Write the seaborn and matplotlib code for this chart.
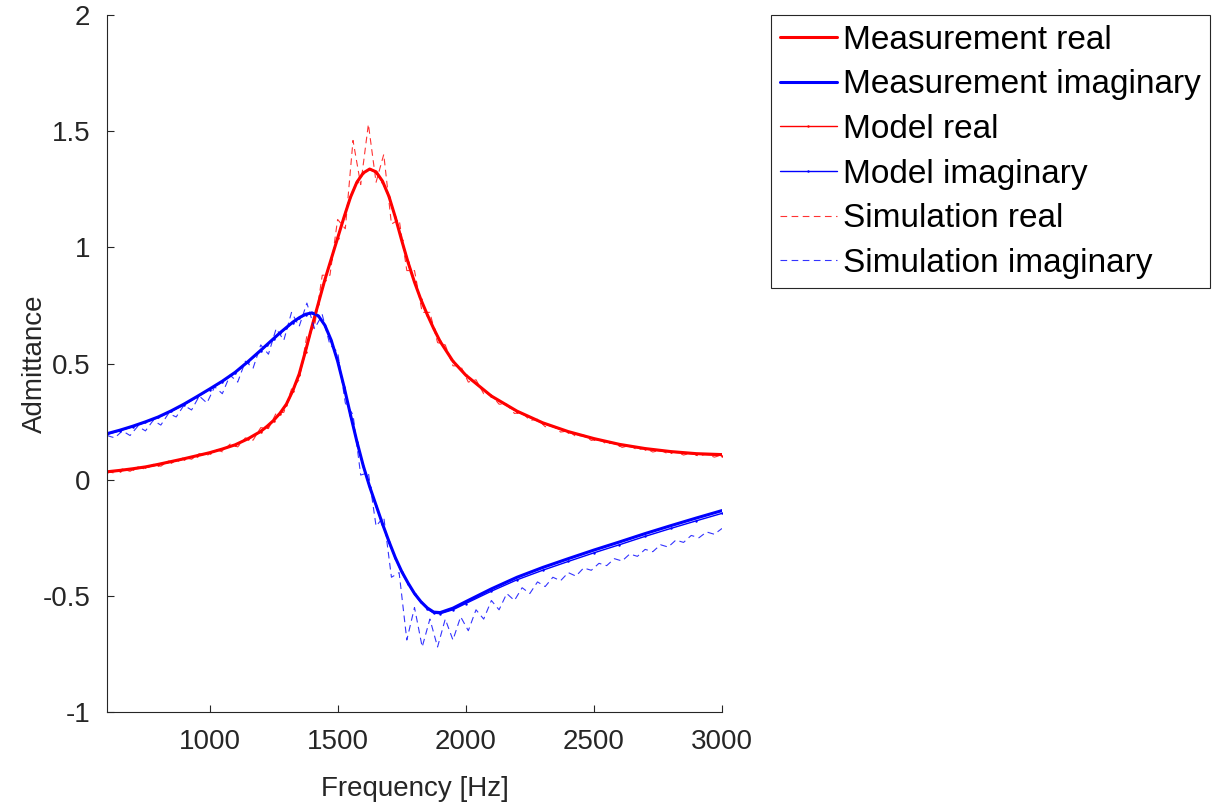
import matplotlib
matplotlib.use("Agg")
import matplotlib.pyplot as plt
import numpy as np
import pandas as pd
import seaborn as sns

# measurement / model sample frequencies (Hz)
meas_freq = [600, 650, 700, 750, 800, 850, 900, 950, 1000, 1050, 1100, 1150,
             1200, 1225, 1250, 1275, 1300, 1325, 1350, 1375, 1400, 1425, 1450,
             1475, 1500, 1525, 1550, 1575, 1600, 1625, 1650, 1675, 1700, 1725,
             1750, 1775, 1800, 1825, 1850, 1875, 1900, 1950, 2000, 2100, 2200,
             2300, 2400, 2500, 2600, 2700, 2800, 2900, 3000]

meas_real = [0.034, 0.040, 0.047, 0.055, 0.066, 0.078, 0.090, 0.103, 0.116, 0.132,
             0.150, 0.176, 0.208, 0.230, 0.255, 0.286, 0.325, 0.383, 0.455, 0.555,
             0.660, 0.760, 0.860, 0.950, 1.040, 1.130, 1.215, 1.280, 1.320, 1.337,
             1.325, 1.285, 1.220, 1.130, 1.030, 0.935, 0.850, 0.775, 0.710, 0.650,
             0.595, 0.510, 0.450, 0.360, 0.295, 0.245, 0.207, 0.177, 0.152, 0.134,
             0.121, 0.112, 0.108]

meas_imag = [0.198, 0.213, 0.230, 0.249, 0.270, 0.296, 0.325, 0.357, 0.390, 0.424,
             0.462, 0.508, 0.557, 0.582, 0.607, 0.632, 0.655, 0.678, 0.697, 0.712,
             0.718, 0.705, 0.665, 0.600, 0.510, 0.400, 0.280, 0.165, 0.060, -0.030,
             -0.110, -0.190, -0.265, -0.335, -0.395, -0.445, -0.490, -0.525, -0.552,
             -0.570, -0.572, -0.553, -0.525, -0.470, -0.420, -0.378, -0.340, -0.303,
             -0.268, -0.232, -0.198, -0.165, -0.133]

model_real = [0.032, 0.038, 0.045, 0.053, 0.064, 0.076, 0.089, 0.102, 0.115, 0.131,
              0.150, 0.175, 0.206, 0.228, 0.253, 0.284, 0.322, 0.380, 0.450, 0.550,
              0.655, 0.758, 0.858, 0.950, 1.042, 1.133, 1.218, 1.283, 1.322, 1.335,
              1.322, 1.282, 1.218, 1.130, 1.032, 0.938, 0.852, 0.776, 0.710, 0.650,
              0.596, 0.510, 0.449, 0.358, 0.293, 0.243, 0.205, 0.175, 0.150, 0.132,
              0.119, 0.110, 0.104]

model_imag = [0.195, 0.211, 0.228, 0.247, 0.268, 0.294, 0.322, 0.355, 0.388, 0.422,
              0.460, 0.506, 0.555, 0.580, 0.605, 0.630, 0.653, 0.676, 0.695, 0.710,
              0.716, 0.703, 0.663, 0.598, 0.508, 0.398, 0.278, 0.163, 0.058, -0.032,
              -0.112, -0.192, -0.268, -0.338, -0.398, -0.448, -0.493, -0.528, -0.556,
              -0.574, -0.577, -0.560, -0.533, -0.480, -0.431, -0.390, -0.352, -0.315,
              -0.280, -0.244, -0.210, -0.177, -0.145]

# simulation sampled every 30 Hz
sim_freq = list(range(600, 3001, 30))

sim_real = [0.036, 0.028, 0.046, 0.036, 0.055, 0.045, 0.066, 0.058, 0.080, 0.073,
            0.096, 0.088, 0.112, 0.103, 0.131, 0.120, 0.153, 0.141, 0.180, 0.170,
            0.224, 0.220, 0.286, 0.290, 0.390, 0.430, 0.620, 0.660, 0.880, 0.880,
            1.120, 1.080, 1.460, 1.270, 1.530, 1.280, 1.400, 1.100, 1.120, 0.900,
            0.900, 0.720, 0.720, 0.590, 0.580, 0.490, 0.490, 0.420, 0.430, 0.370,
            0.365, 0.325, 0.325, 0.285, 0.290, 0.255, 0.260, 0.228, 0.233, 0.205,
            0.210, 0.186, 0.192, 0.169, 0.175, 0.153, 0.160, 0.139, 0.147, 0.128,
            0.136, 0.119, 0.127, 0.111, 0.121, 0.106, 0.115, 0.101, 0.111, 0.097,
            0.106]

sim_imag = [0.190, 0.180, 0.210, 0.190, 0.230, 0.210, 0.255, 0.235, 0.285, 0.270,
            0.320, 0.300, 0.360, 0.330, 0.400, 0.370, 0.450, 0.420, 0.510, 0.480,
            0.580, 0.540, 0.650, 0.600, 0.720, 0.660, 0.760, 0.650, 0.710, 0.580,
            0.550, 0.330, 0.280, 0.020, 0.030, -0.200, -0.160, -0.420, -0.400, -0.690,
            -0.550, -0.720, -0.600, -0.720, -0.600, -0.690, -0.590, -0.650, -0.560,
            -0.600, -0.520, -0.560, -0.490, -0.520, -0.465, -0.490, -0.440, -0.460,
            -0.420, -0.435, -0.400, -0.415, -0.380, -0.390, -0.360, -0.370, -0.340,
            -0.350, -0.320, -0.330, -0.300, -0.310, -0.280, -0.290, -0.260, -0.270,
            -0.240, -0.250, -0.225, -0.235, -0.210]

meas = pd.DataFrame({"f": meas_freq, "re": meas_real, "im": meas_imag})
model = pd.DataFrame({"f": meas_freq, "re": model_real, "im": model_imag})
sim = pd.DataFrame({"f": sim_freq, "re": sim_real, "im": sim_imag})

sns.set_theme(style="ticks")
plt.rcParams["font.family"] = ["Liberation Sans", "DejaVu Sans"]
plt.rcParams["axes.unicode_minus"] = False

fig = plt.figure(figsize=(12.12, 8.06), dpi=100)
ax = fig.add_axes([0.0883, 0.1166, 0.5074, 0.8648])

RED = "#ff0000"
BLUE = "#0000ff"

sns.lineplot(data=meas, x="f", y="re", ax=ax, color=RED, linewidth=2.2,
             estimator=None, sort=False, label="Measurement real")
sns.lineplot(data=meas, x="f", y="im", ax=ax, color=BLUE, linewidth=2.2,
             estimator=None, sort=False, label="Measurement imaginary")
sns.lineplot(data=model, x="f", y="re", ax=ax, color=RED, linewidth=1.0,
             marker=".", markersize=3.5, markeredgewidth=0,
             estimator=None, sort=False, label="Model real")
sns.lineplot(data=model, x="f", y="im", ax=ax, color=BLUE, linewidth=1.0,
             marker=".", markersize=3.5, markeredgewidth=0,
             estimator=None, sort=False, label="Model imaginary")
sns.lineplot(data=sim, x="f", y="re", ax=ax, color=RED, linewidth=0.8, alpha=0.8,
             linestyle=(0, (6, 4)), estimator=None, sort=False,
             label="Simulation real")
sns.lineplot(data=sim, x="f", y="im", ax=ax, color=BLUE, linewidth=0.8, alpha=0.8,
             linestyle=(0, (6, 4)), estimator=None, sort=False,
             label="Simulation imaginary")

ax.set_xlim(600, 3000)
ax.set_ylim(-1, 2)
ax.set_xticks([1000, 1500, 2000, 2500, 3000])
ax.set_yticks([-1, -0.5, 0, 0.5, 1, 1.5, 2])
ax.set_yticklabels(["-1", "-0.5", "0", "0.5", "1", "1.5", "2"])
ax.set_xticklabels(["1000", "1500", "2000", "2500", "3000"])

dark = "#262626"
for side in ["top", "right"]:
    ax.spines[side].set_visible(False)
for side in ["left", "bottom"]:
    ax.spines[side].set_color(dark)
    ax.spines[side].set_linewidth(0.8)
ax.tick_params(direction="in", length=5, width=0.8, colors=dark,
               labelsize=20, pad=12)
ax.set_xlabel("Frequency [Hz]", fontsize=20, color=dark, labelpad=15)
ax.set_ylabel("Admittance", fontsize=20, color=dark, labelpad=-4)

leg = ax.legend(loc="upper left", bbox_to_anchor=(0.636, 0.981),
                bbox_transform=fig.transFigure, borderaxespad=0,
                fontsize=24, frameon=True, fancybox=False, framealpha=1,
                edgecolor=dark, handlelength=1.7, handletextpad=0.18,
                labelspacing=0.41, borderpad=0.28)
leg.get_frame().set_linewidth(0.8)
for t in leg.get_texts():
    t.set_color("black")

fig.savefig("out.png", dpi=100)
